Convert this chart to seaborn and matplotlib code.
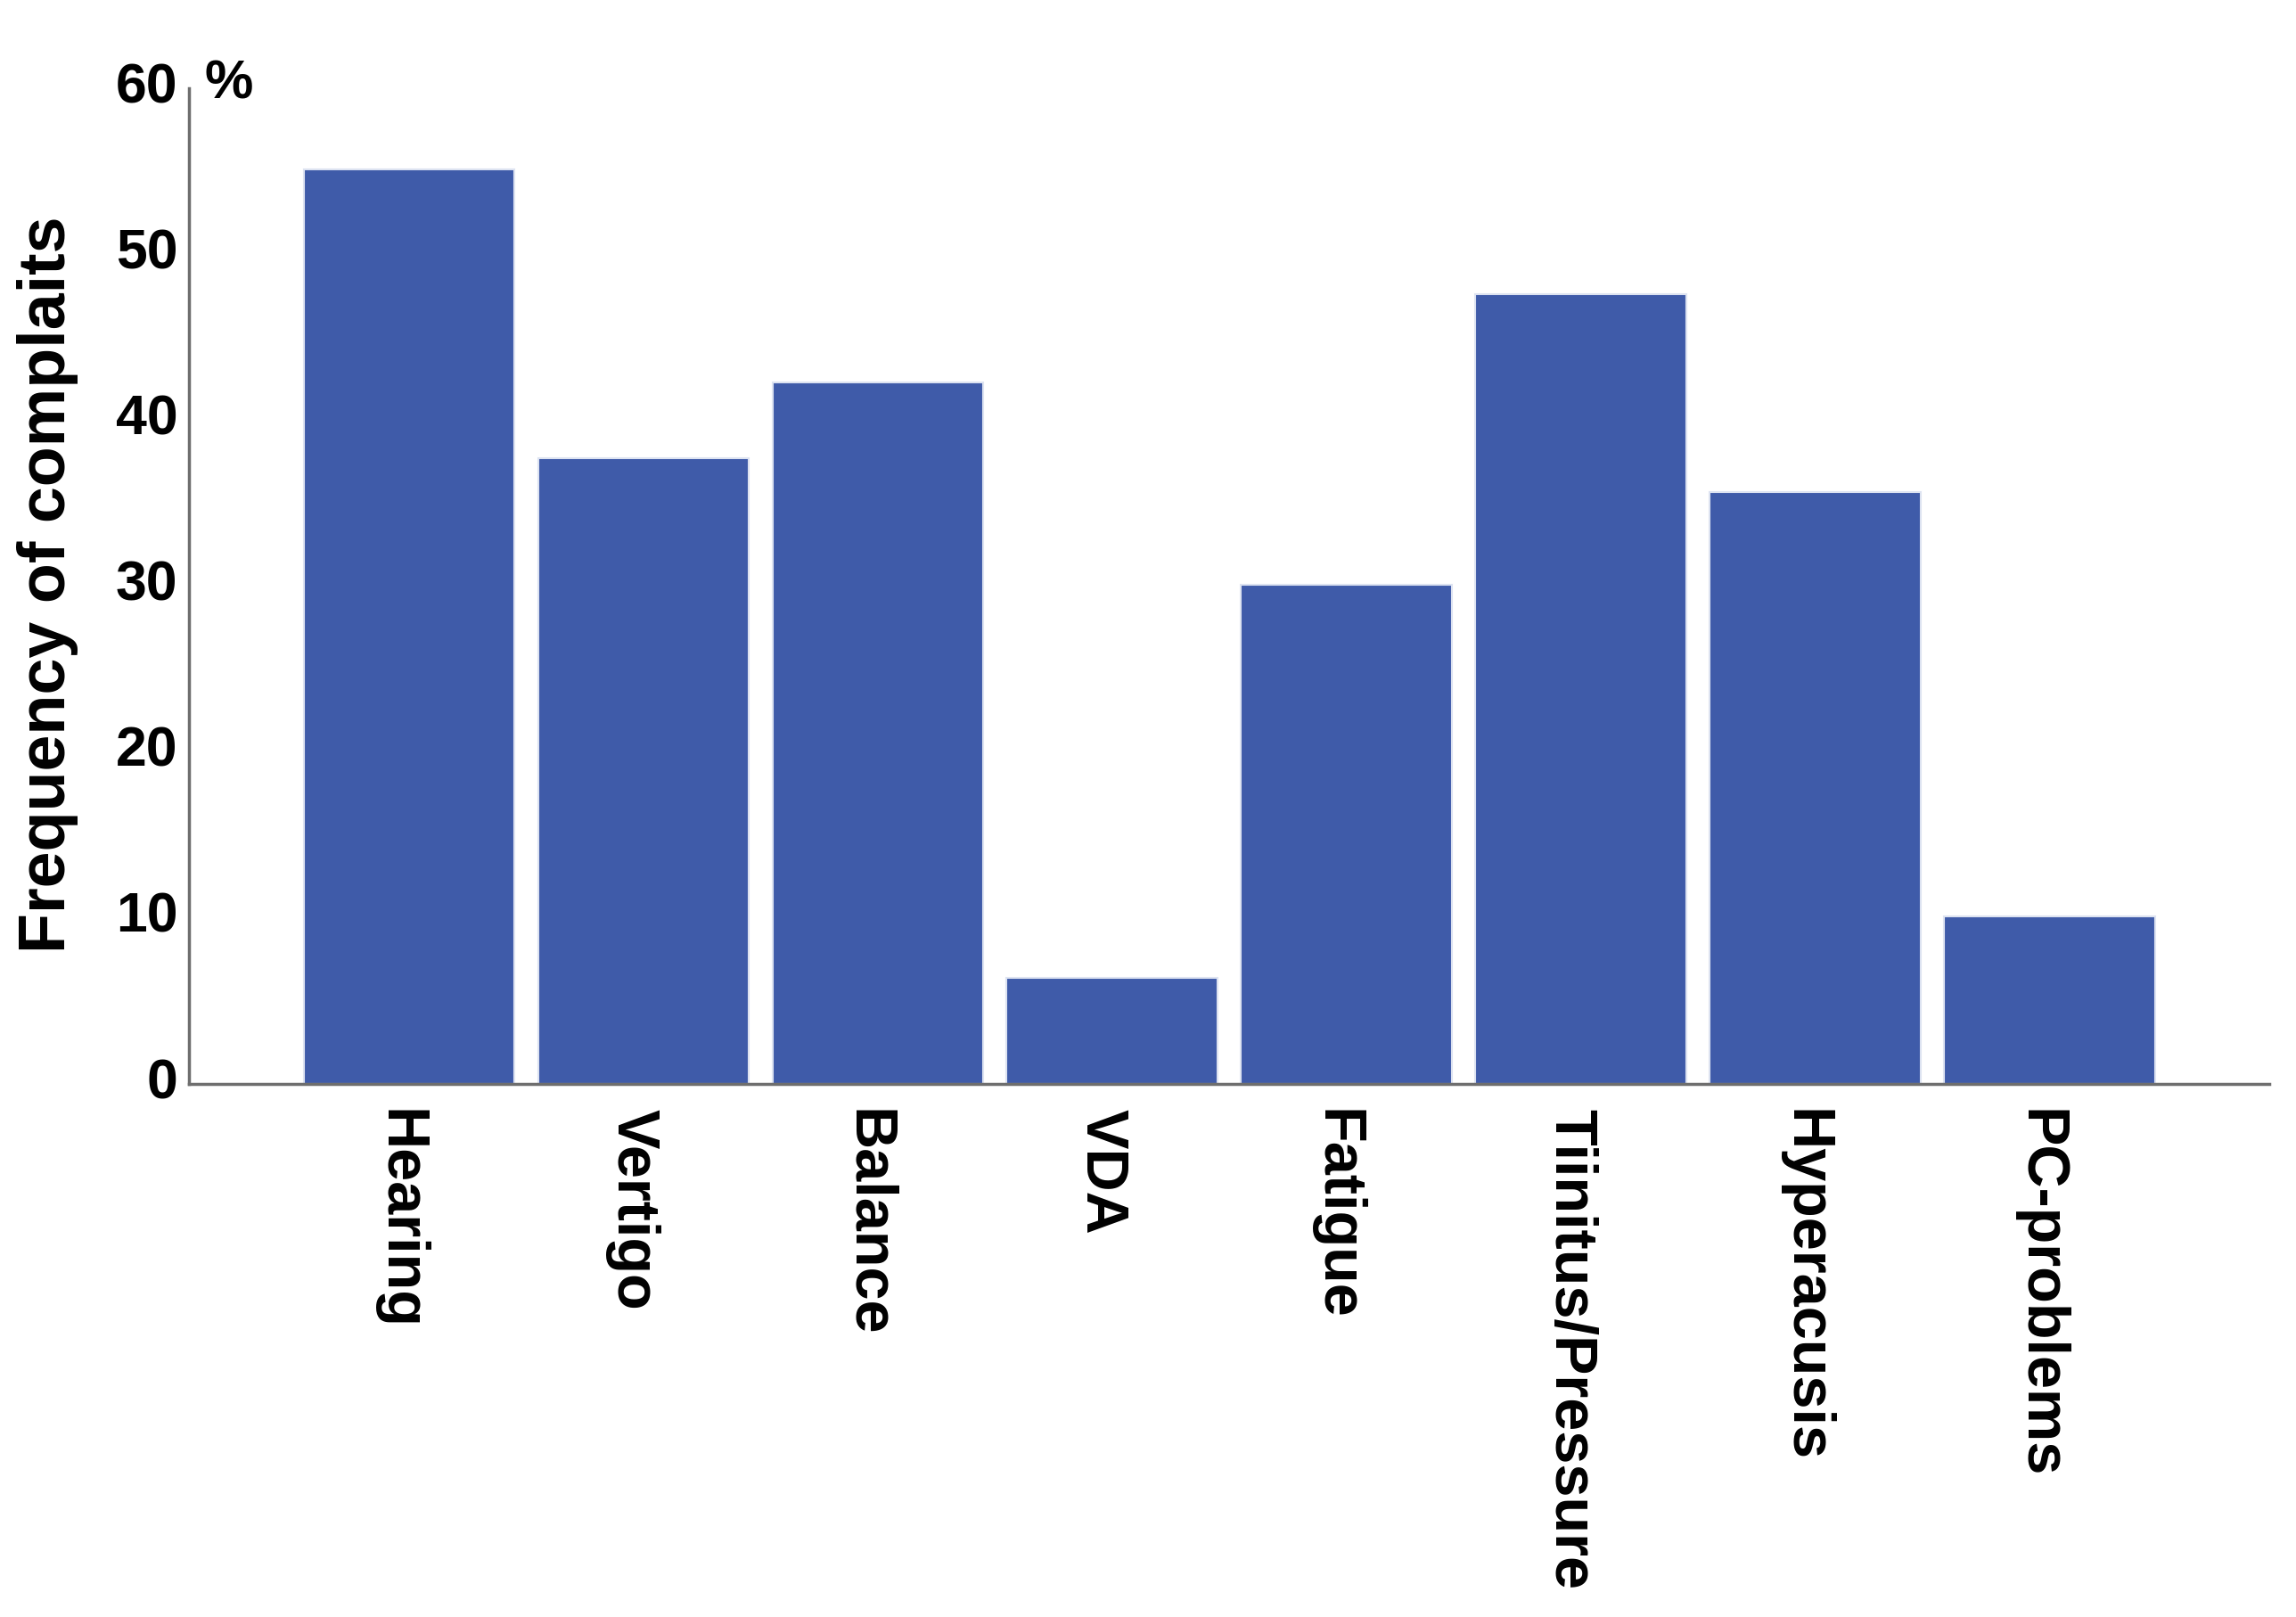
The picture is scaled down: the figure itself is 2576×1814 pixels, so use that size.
import pandas as pd
import matplotlib
matplotlib.use("Agg")
import matplotlib.pyplot as plt
import matplotlib.transforms as mtransforms
import seaborn as sns

# categorie e valori (percentuali)
categories = ["Hearing", "Vertigo", "Balance", "VDA", "Fatigue",
              "Tiinitus/Pressure", "Hyperacusis", "PC-problems"]
values = [55.1, 37.7, 42.3, 6.4, 30.1, 47.6, 35.7, 10.1]
yticks = [0, 10, 20, 30, 40, 50, 60]

df = pd.DataFrame({"complaint": categories, "freq": values})

sns.set_theme(style="white")
plt.rcParams["font.family"] = ["Liberation Sans", "DejaVu Sans"]
plt.rcParams["font.weight"] = "bold"
plt.rcParams["text.color"] = "black"
plt.rcParams["xtick.color"] = "black"
plt.rcParams["ytick.color"] = "black"
plt.rcParams["axes.labelcolor"] = "black"

fig = plt.figure(figsize=(25.76, 18.15), dpi=100)
ax = fig.add_axes([0.0823, 0.3294, 0.9885 - 0.0823, 0.9448 - 0.3294])

sns.barplot(data=df, x="complaint", y="freq", color="#3F5BA9", saturation=1,
            width=0.9, edgecolor="#dde3f1", linewidth=1.5, ax=ax)

ax.set_xlim(-0.94, 7.94)
ax.set_ylim(0, 60)
ax.set_yticks(yticks)
ax.set_yticklabels([str(t) for t in yticks], fontsize=45, fontweight="bold")
ax.set_xticks(range(len(categories)))
ax.set_xticklabels(categories, rotation=-90, fontsize=48, fontweight="bold",
                   va="top", ha="center")
ax.tick_params(axis="y", length=0, pad=9)
ax.tick_params(axis="x", length=0, pad=19)

# piccoli spostamenti delle etichette come nell'originale
up = mtransforms.ScaledTranslation(0, 0.08, fig.dpi_scale_trans)
for lab in ax.get_yticklabels():
    lab.set_transform(lab.get_transform() + up)
left = mtransforms.ScaledTranslation(-0.12, 0, fig.dpi_scale_trans)
for lab in ax.get_xticklabels():
    lab.set_transform(lab.get_transform() + left)

ax.set_xlabel("")
ax.set_ylabel("Frequency of complaits", fontsize=53, fontweight="bold",
              va="center")
ax.yaxis.set_label_coords(-0.068, 0.503)

for s in ["top", "right"]:
    ax.spines[s].set_visible(False)
for s in ["left", "bottom"]:
    ax.spines[s].set_color("#6e6e6e")
    ax.spines[s].set_linewidth(2.5)

ax.text(0.0193, 1.005, "%", transform=ax.transAxes, fontsize=44, fontweight="bold",
        ha="center", va="center")

fig.savefig("out.png", dpi=100)
